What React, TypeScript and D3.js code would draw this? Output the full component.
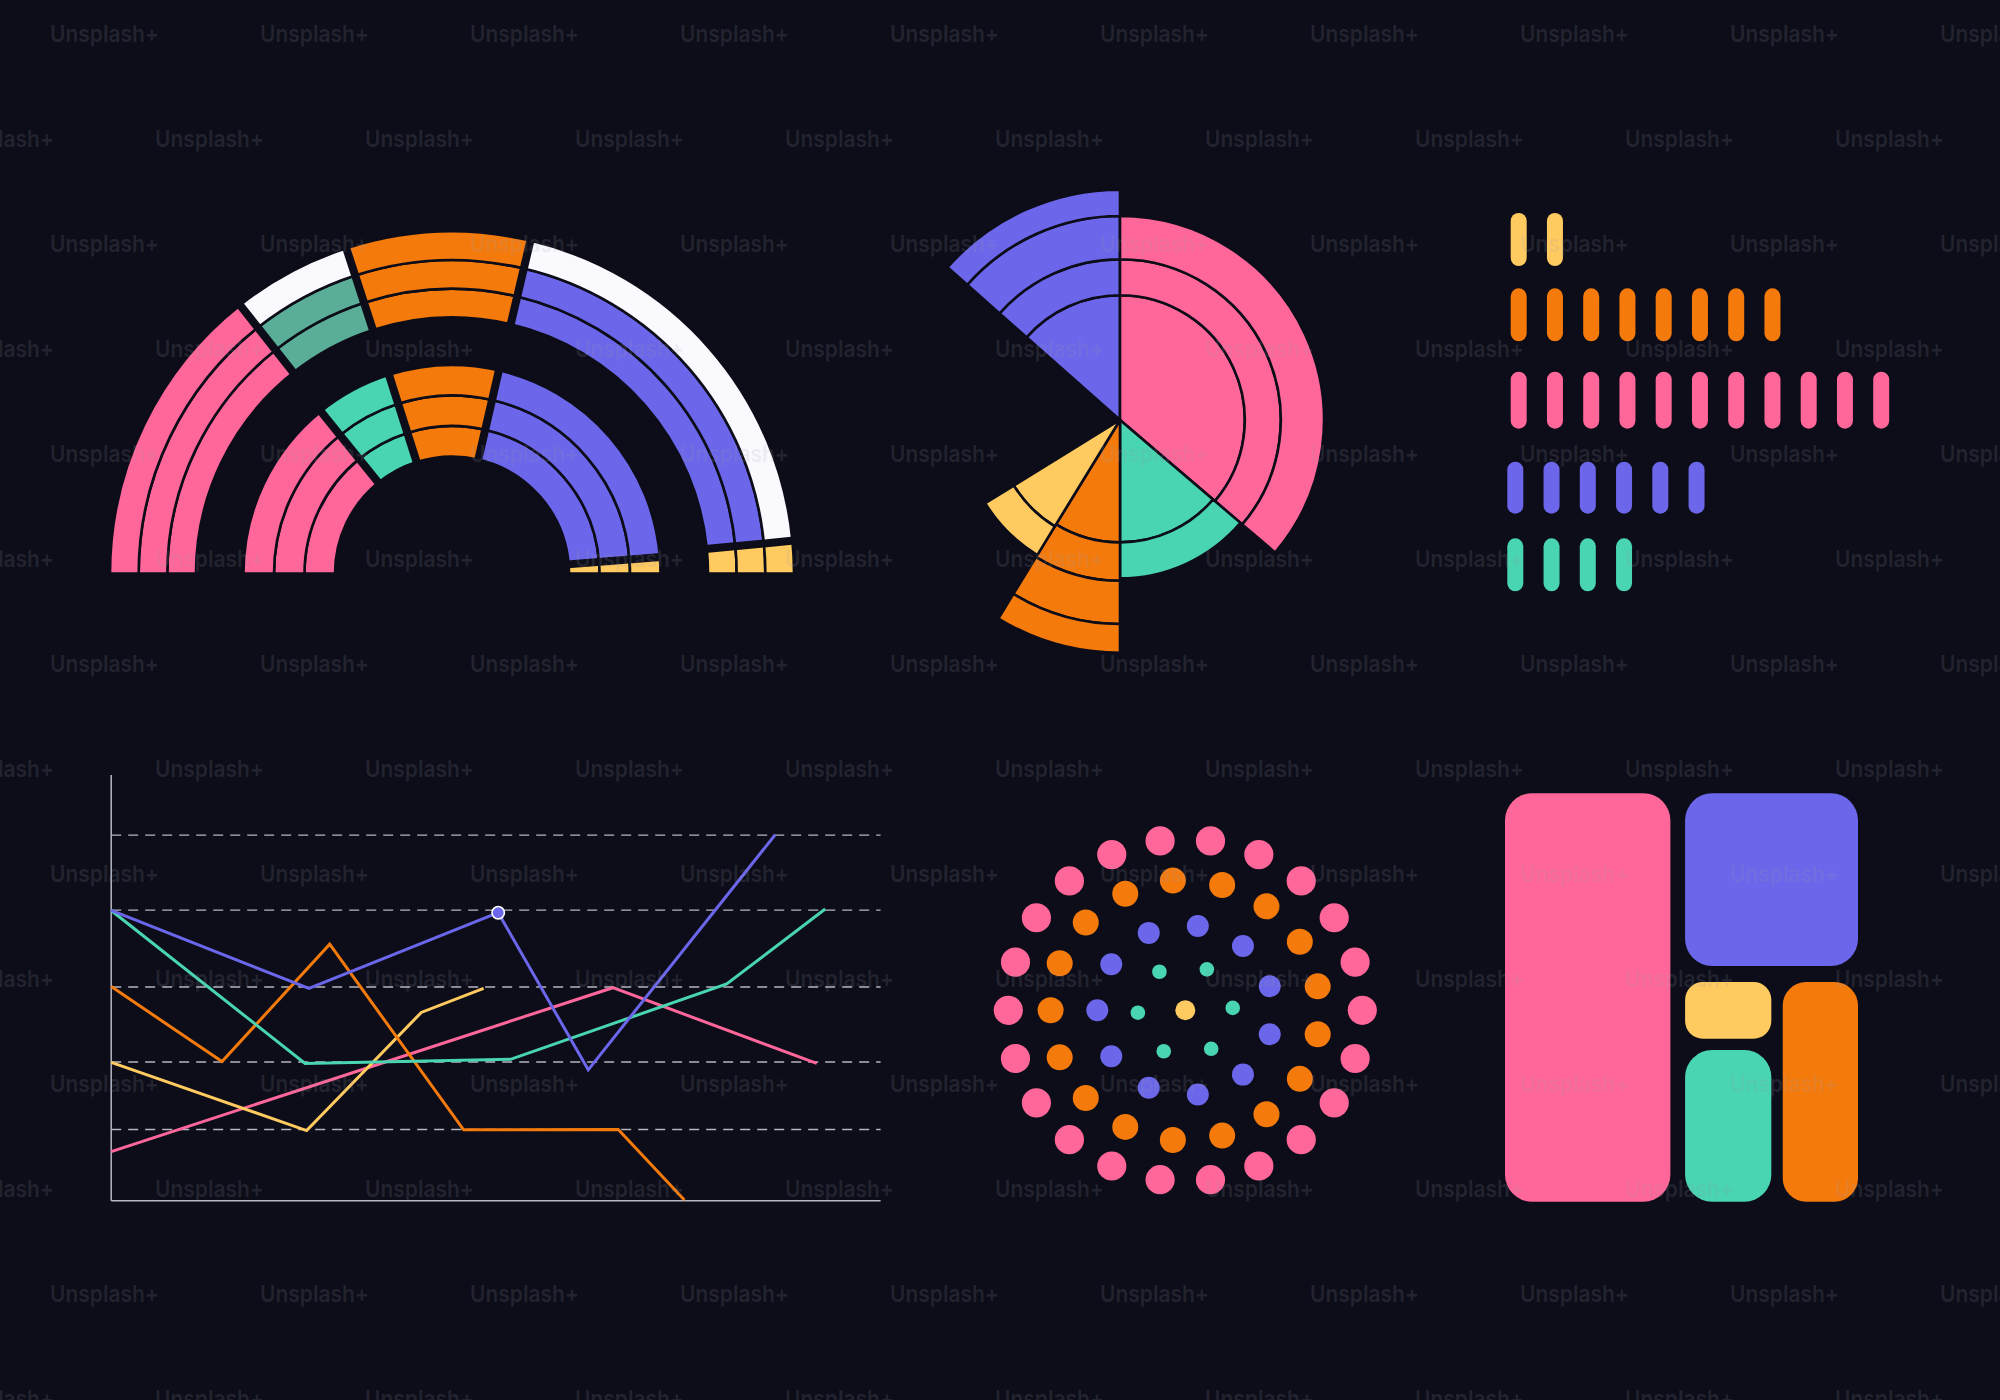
import React, { useEffect } from 'react';
import * as d3 from 'd3';

const W = 2000;
const H = 1400;
const BG = '#0c0d18';
const COLORS: Record<string, string> = {
  pink: '#ff6699',
  purple: '#6b66ea',
  orange: '#f57a0c',
  yellow: '#ffca5f',
  green: '#48d5b0',
  teal: '#5aae97',
  white: '#fafafe',
};

// ---------- Panel 1: nested half-donut ----------
const rainbowOuterSpans = [51.7, 20.3, 31.25, 71.25, 5.5];
const rainbowOuterBands = [
  ['pink', 'pink', 'pink'],
  ['teal', 'teal', 'white'],
  ['orange', 'orange', 'orange'],
  ['purple', 'purple', 'white'],
  ['yellow', 'yellow', 'yellow'],
];
const rainbowInnerSpans = [51, 21.4, 30.6, 72.5, 4.5];
const rainbowInnerBands = [
  ['pink', 'pink', 'pink'],
  ['green', 'green', 'green'],
  ['orange', 'orange', 'orange'],
  ['purple', 'purple', 'purple'],
  ['yellow', 'yellow', 'yellow'],
];

// ---------- Panel 2: polar area ----------
const polarCategories = ['purple', 'pink', 'green', 'orange', 'yellow'];
const polarSpans = [48.5, 130.5, 49.5, 31.5, 26.8];
const polarBands = [
  [52, 67, 85, 96],
  [52, 67, 85],
  [51, 66],
  [51, 67, 85, 97],
  [52, 66],
];

// ---------- Panel 3: pill counts ----------
const pillCategories = ['yellow', 'orange', 'pink', 'purple', 'green'];
const pillCounts = [2, 8, 11, 6, 4];

// ---------- Panel 4: line chart ----------
const gridValues = [19, 37, 57, 77.5, 97.5];
const pinkLine: [number, number][] = [[0, 13.1], [65.2, 56.8], [91.7, 36.6]];
const yellowLine: [number, number][] = [[0, 36.9], [25.4, 18.7], [40.3, 50.2], [48.4, 56.6]];
const orangeLine: [number, number][] = [[0, 57.1], [14.4, 37.1], [28.4, 68.4], [45.8, 18.9], [65.9, 19.0], [74.5, 0.2]];
const greenLine: [number, number][] = [[0, 77.4], [25.2, 36.6], [51.9, 37.7], [80, 57.8], [92.8, 77.8]];
const purpleLine: [number, number][] = [[0, 77.4], [25.7, 56.6], [50.3, 76.8], [62, 34.9], [86.3, 97.6]];
const purpleMarkerIndex = 2;

// ---------- Panel 5: concentric dots ----------
const ringCategories = ['yellow', 'green', 'purple', 'orange', 'pink'];
const ringCounts = [1, 6, 11, 17, 22];
const ringOffsets = [0, 3, 180, 180, 180];

// ---------- Panel 6: treemap ----------
const treeCategories = ['pink', 'purple', 'yellow', 'green', 'orange'];
const treeValues = [49.0, 22.7, 4.42, 10.6, 13.33];

// ---------- Layout (positions, sizes) ----------
const L = {
  rainbow: { cx: 452, cy: 573.5, outer: [256, 342], inner: [117, 208.5], sep: 8, line: 2.6 },
  polar: { cx: 1120, cy: 420, rMax: 240, start: -48.5 },
  pills: {
    tops: [213, 288.3, 371.7, 461.7, 538.3],
    heights: [53, 53, 57, 52, 53],
    x0: [1518.7, 1518.7, 1518.7, 1515.3, 1515.3],
    step: 36.25,
    w: 16,
  },
  line: { x0: 111.2, x1: 880.6, y0: 1200.7, y1: 825.7, axisTop: 775 },
  dots: {
    cx: 1185.3,
    cy: 1010.3,
    radii: [0, 47.5, 88, 134.7, 177],
    sizes: [10, 7.3, 11, 13, 14.6],
    squash: 0.967,
  },
  tree: { x: 1505, y: 793.3, w: 353, h: 408.4 },
};

const deg = Math.PI / 180;

function Rainbow() {
  const { cx, cy, sep, line } = L.rainbow;
  const groups = [
    { spans: rainbowOuterSpans, bands: rainbowOuterBands, r: L.rainbow.outer },
    { spans: rainbowInnerSpans, bands: rainbowInnerBands, r: L.rainbow.inner },
  ];
  const arc = d3.arc<any>();
  const pie = d3.pie<number>().sort(null).value((d) => d).startAngle(-Math.PI / 2).endAngle(Math.PI / 2);
  const els: React.ReactNode[] = [];
  groups.forEach((g, gi) => {
    const slices = pie(g.spans);
    const rs = d3.scaleLinear().domain([0, 3]).range(g.r);
    slices.forEach((s, si) => {
      g.bands[si].forEach((c, bi) => {
        const d = arc({
          innerRadius: rs(bi),
          outerRadius: rs(bi + 1),
          startAngle: s.startAngle,
          endAngle: s.endAngle,
        }) as string;
        els.push(
          <path key={`b${gi}-${si}-${bi}`} d={d} fill={COLORS[c]} stroke={BG} strokeWidth={line} />
        );
      });
    });
    slices.slice(1).forEach((s, si) => {
      const a = s.startAngle;
      const p0 = d3.pointRadial(a, g.r[0] - 4);
      const p1 = d3.pointRadial(a, g.r[1] + 4);
      els.push(
        <line key={`s${gi}-${si}`} x1={p0[0]} y1={p0[1]} x2={p1[0]} y2={p1[1]} stroke={BG} strokeWidth={sep} />
      );
    });
  });
  return <g transform={`translate(${cx},${cy})`}>{els}</g>;
}

function Polar() {
  const { cx, cy, rMax, start } = L.polar;
  const total = d3.sum(polarSpans);
  const pie = d3
    .pie<number>()
    .sort(null)
    .value((d) => d)
    .startAngle(start * deg)
    .endAngle((start + total) * deg);
  const slices = pie(polarSpans);
  const r = d3.scaleLinear().domain([0, 100]).range([0, rMax]);
  const arc = d3.arc<any>();
  const els: React.ReactNode[] = [];
  slices.forEach((s, i) => {
    const bands = polarBands[i];
    bands.forEach((v, bi) => {
      const d = arc({
        innerRadius: bi === 0 ? 0 : r(bands[bi - 1]),
        outerRadius: r(v),
        startAngle: s.startAngle,
        endAngle: s.endAngle,
      }) as string;
      els.push(
        <path key={`p${i}-${bi}`} d={d} fill={COLORS[polarCategories[i]]} stroke={BG} strokeWidth={2.6} strokeLinejoin="round" />
      );
    });
  });
  return <g transform={`translate(${cx},${cy})`}>{els}</g>;
}

function Pills() {
  const { tops, heights, x0, step, w } = L.pills;
  const els: React.ReactNode[] = [];
  pillCategories.forEach((c, ri) => {
    const x = d3.scaleLinear().domain([0, 1]).range([x0[ri], x0[ri] + step]);
    d3.range(pillCounts[ri]).forEach((i) => {
      els.push(
        <rect
          key={`pl${ri}-${i}`}
          x={x(i) - w / 2}
          y={tops[ri]}
          width={w}
          height={heights[ri]}
          rx={w / 2}
          ry={w / 2}
          fill={COLORS[c]}
        />
      );
    });
  });
  return <g>{els}</g>;
}

function LineChart() {
  const { x0, x1, y0, y1, axisTop } = L.line;
  const x = d3.scaleLinear().domain([0, 100]).range([x0, x1]);
  const y = d3.scaleLinear().domain([0, 100]).range([y0, y1]);
  const line = d3
    .line<[number, number]>()
    .x((d) => x(d[0]))
    .y((d) => y(d[1]));
  const series: [string, [number, number][]][] = [
    ['pink', pinkLine],
    ['yellow', yellowLine],
    ['orange', orangeLine],
    ['green', greenLine],
    ['purple', purpleLine],
  ];
  const mk = purpleLine[purpleMarkerIndex];
  return (
    <g>
      {gridValues.map((v, i) => (
        <line
          key={`g${i}`}
          x1={x(0)}
          x2={x(100)}
          y1={y(v)}
          y2={y(v)}
          stroke="#d4d4dc"
          strokeWidth={1.4}
          strokeDasharray="10 7"
          opacity={0.85}
        />
      ))}
      <line x1={x(0)} x2={x(0)} y1={axisTop} y2={y(0)} stroke="#b9b9c6" strokeWidth={1.5} />
      <line x1={x(0)} x2={x(100)} y1={y(0)} y2={y(0)} stroke="#b9b9c6" strokeWidth={1.5} />
      {series.map(([c, pts]) => (
        <path key={c} d={line(pts) as string} fill="none" stroke={COLORS[c]} strokeWidth={3} />
      ))}
      <circle cx={x(mk[0])} cy={y(mk[1])} r={6.2} fill={COLORS.purple} stroke="#ffffff" strokeWidth={1.6} />
    </g>
  );
}

function Dots() {
  const { cx, cy, radii, sizes, squash } = L.dots;
  const els: React.ReactNode[] = [];
  ringCategories.forEach((c, ri) => {
    const n = ringCounts[ri];
    const ang = d3.scaleLinear().domain([0, n]).range([ringOffsets[ri], ringOffsets[ri] + 360]);
    d3.range(n).forEach((i) => {
      const a = ang(i) * deg;
      const px = Math.cos(a) * radii[ri];
      const py = -Math.sin(a) * radii[ri] * squash;
      els.push(<circle key={`d${ri}-${i}`} cx={px} cy={py} r={sizes[ri]} fill={COLORS[c]} />);
    });
  });
  return <g transform={`translate(${cx},${cy})`}>{els}</g>;
}

function Treemap() {
  const { x, y, w, h } = L.tree;
  const data = {
    name: 'root',
    children: [
      { name: treeCategories[0], value: treeValues[0] },
      {
        name: 'right',
        children: [
          { name: treeCategories[1], value: treeValues[1] },
          {
            name: 'bottom',
            children: [
              {
                name: 'col',
                children: [
                  { name: treeCategories[2], value: treeValues[2] },
                  { name: treeCategories[3], value: treeValues[3] },
                ],
              },
              { name: treeCategories[4], value: treeValues[4] },
            ],
          },
        ],
      },
    ],
  };
  const root = d3.hierarchy<any>(data).sum((d: any) => d.value || 0);
  const pad: Record<string, number> = { root: 14.7, right: 16, bottom: 11.4, col: 11.3 };
  d3
    .treemap<any>()
    .size([w, h])
    .tile(d3.treemapSliceDice)
    .paddingInner((n: any) => pad[n.data.name] || 0)(root);
  const leaves = root.leaves() as any[];
  return (
    <g transform={`translate(${x},${y})`}>
      {leaves.map((l) => {
        const lw = l.x1 - l.x0;
        const lh = l.y1 - l.y0;
        const rr = Math.min(27, Math.min(lw, lh) / 3.2);
        return (
          <rect key={l.data.name} x={l.x0} y={l.y0} width={lw} height={lh} rx={rr} ry={rr} fill={COLORS[l.data.name]} />
        );
      })}
    </g>
  );
}

function Watermarks() {
  const rows = d3.range(14);
  const cols = d3.range(11);
  const els: React.ReactNode[] = [];
  rows.forEach((k) => {
    const xStart = k % 2 === 0 ? 50 : -55;
    cols.forEach((j) => {
      els.push(
        <text
          key={`w${k}-${j}`}
          x={xStart + 210 * j}
          y={41.7 + 105 * k}
          fontFamily="Inter, 'Noto Sans', sans-serif"
          fontWeight={600}
          fontSize={23}
          textLength={109}
          lengthAdjust="spacingAndGlyphs"
          fill="#9a9aae"
          fillOpacity={0.17}
        >
          Unsplash+
        </text>
      );
    });
  });
  return <g>{els}</g>;
}

export default function App() {
  useEffect(() => {
    document.body.style.margin = '0';
    document.body.style.background = BG;
  }, []);
  return (
    <svg
      width={W}
      height={H}
      viewBox={`0 0 ${W} ${H}`}
      style={{ display: 'block', position: 'absolute', left: 0, top: 0 }}
    >
      <rect x={0} y={0} width={W} height={H} fill={BG} />
      <Rainbow />
      <Polar />
      <Pills />
      <LineChart />
      <Dots />
      <Treemap />
      <Watermarks />
    </svg>
  );
}
